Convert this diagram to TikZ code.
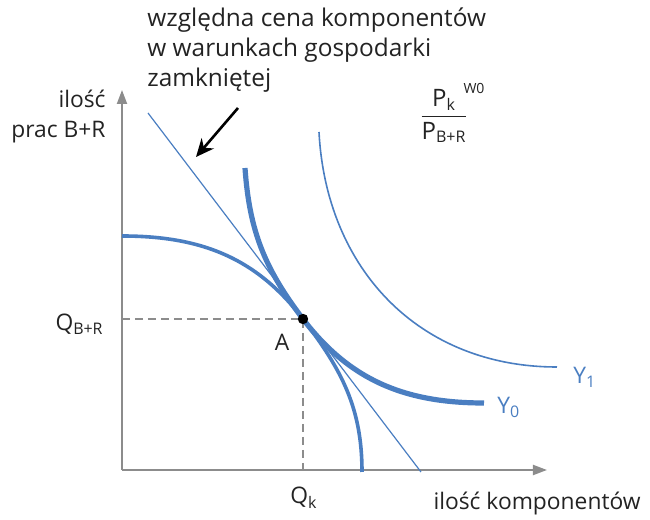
\documentclass[tikz,border=0pt]{standalone}
\usepackage{amsmath}
\usepackage{fontspec}
\setmainfont{Open Sans}
\usepackage{tikz}
\usetikzlibrary{arrows.meta}

\definecolor{curveblue}{RGB}{74,126,193}
\definecolor{axisgray}{RGB}{140,140,140}
\definecolor{txt}{RGB}{35,35,35}

\begin{document}
\begin{tikzpicture}[x=0.5pt,y=0.5pt,
   lbl/.style={text=txt,inner sep=1pt,font=\fontsize{11.4}{15}\selectfont},
   ylbl/.style={text=curveblue,inner sep=1pt,font=\fontsize{11.4}{15}\selectfont},
   axis/.style={axisgray,line width=1pt,-{Triangle[length=7pt,width=5pt]}},
   guide/.style={axisgray,line width=0.7pt,dash pattern=on 4pt off 2.5pt},
   isoq/.style={curveblue,line width=#1}]
\useasboundingbox (0,0) rectangle (650,520);
% axes
\coordinate (O) at (122,50);
\coordinate (ytop) at (122,430);
\coordinate (xend) at (547,50);
\draw[axis] (O) -- (ytop);
\draw[axis] (O) -- (xend);
% point A and guides
\coordinate (A) at (303,201);
\coordinate (qy) at (122,201);
\coordinate (qx) at (303,50);
\draw[guide] (qy) -- (A) -- (qx);
% relative price line
\coordinate (l1) at (148,407);
\coordinate (l2) at (421,48);
\draw[isoq=0.6pt] (l1) -- (l2);
% production possibilities
\coordinate (p1) at (122,284);
\coordinate (p2) at (362,48);
\draw[isoq=1.8pt] (p1) to[out=0,in=127.25] (A) to[out=-52.75,in=90] (p2);
% isoquant Y0
\coordinate (y0a) at (245,352);
\coordinate (y0b) at (484,117);
\draw[isoq=2.6pt] (y0a) to[out=-86,in=127.25] (A) to[out=-52.75,in=180] (y0b);
% isoquant Y1
\coordinate (y1a) at (319,388);
\coordinate (y1b) at (557,153);
\draw[isoq=0.8pt] (y1a) to[out=-87,in=180,looseness=1.05] (y1b);
\fill (A) circle (2.6pt);
% labels
\node[lbl,anchor=east,align=right] (ylab) at (108,403) {ilość\\prac B+R};
\node[lbl,anchor=east] (xlab) at (643,16) {ilość komponentów};
\node[lbl,anchor=east] (qbr) at (106,196) {Q\textsubscript{B+R}};
\node[lbl] (qk) at (304,22) {Q\textsubscript{k}};
\node[lbl] (alab) at (282,178) {A};
\node[ylbl,anchor=west] (y0lab) at (495,113) {Y\textsubscript{0}};
\node[ylbl,anchor=west] (y1lab) at (571,143) {Y\textsubscript{1}};
\node[lbl,anchor=west,align=left,font=\fontsize{12.2}{15}\selectfont] (note) at (145,470)
   {względna cena komponentów\\w warunkach gospodarki\\zamkniętej};
\node[lbl,font=\fontsize{12}{15}\selectfont] (frac) at (444,404)
   {$\dfrac{\text{P}_{\text{k}}}{\text{P}_{\text{B+R}}}$};
\node[lbl,font=\fontsize{7}{8}\selectfont] (w0) at (474,432) {W0};
\coordinate (arrs) at (238,412);
\coordinate (arre) at (196,363);
\draw[black,line width=1.3pt,-{Stealth[length=9pt,width=8pt]}] (arrs) -- (arre);
\end{tikzpicture}
\end{document}
